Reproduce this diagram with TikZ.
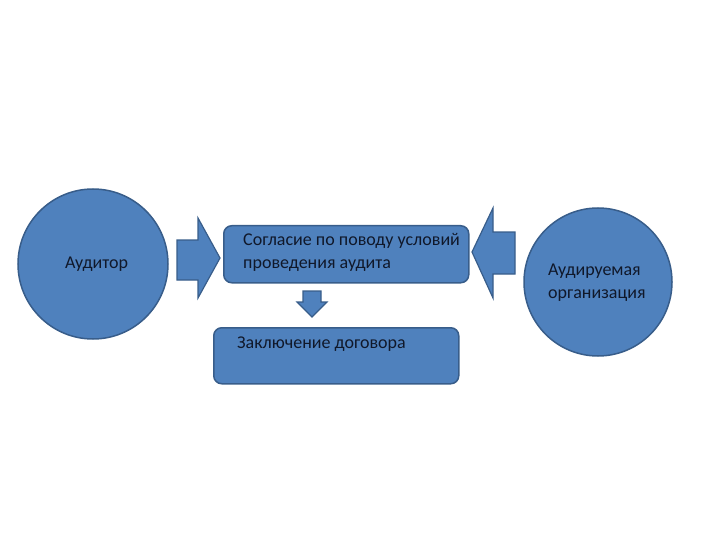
\documentclass[tikz,border=0pt]{standalone}
\usepackage{fontspec}
\setmainfont{Carlito}
\definecolor{boxfill}{HTML}{4F81BD}
\definecolor{boxline}{HTML}{385D8A}
\definecolor{txt}{HTML}{10182A}
\tikzset{
  party/.style={circle,fill=boxfill,draw=boxline,line width=1.5pt,
    minimum size=150pt,inner sep=0pt},
  stagebox/.style={rectangle,rounded corners=8pt,fill=boxfill,draw=boxline,
    line width=1.5pt,anchor=north west},
  label text/.style={text=txt,font=\fontsize{18}{23}\selectfont,
    anchor=base west,align=left,inner sep=0pt},
  blockarrow/.style={fill=boxfill,draw=boxline,line width=1.2pt}
}
\begin{document}
\begin{tikzpicture}[x=1pt,y=-1pt]
   \useasboundingbox (0,0) rectangle (720,540);
   \node[party] (auditor) at (93,264) {};
   \node[label text] (auditortext) at (65,268) {Аудитор};
   \node[party,minimum size=148pt] (client) at (598,282) {};
   \node[label text] (clienttext) at (548,298) {Аудируемая\\организация};
  %
   \node[stagebox,minimum width=245pt,minimum height=57pt] (consent) at (223,225) {};
   \node[label text] (consenttext) at (243,268) {Согласие по поводу условий\\проведения аудита};
   \node[stagebox,minimum width=245pt,minimum height=56pt] (contract) at (213,327) {};
   \node[label text] (contracttext) at (237,348) {Заключение договора};
  %
   \draw[blockarrow] (177,240) -- (198,240) -- (198,218) -- (220,258)
     -- (198,298) -- (198,280) -- (177,280) -- cycle;
   \draw[blockarrow] (515,232) -- (493,232) -- (493,208) -- (472,252)
     -- (493,298) -- (493,274) -- (515,274) -- cycle;
   \draw[blockarrow] (303,291) -- (321,291) -- (321,302) -- (327,302)
     -- (312,317) -- (297,302) -- (303,302) -- cycle;
\end{tikzpicture}
\end{document}
